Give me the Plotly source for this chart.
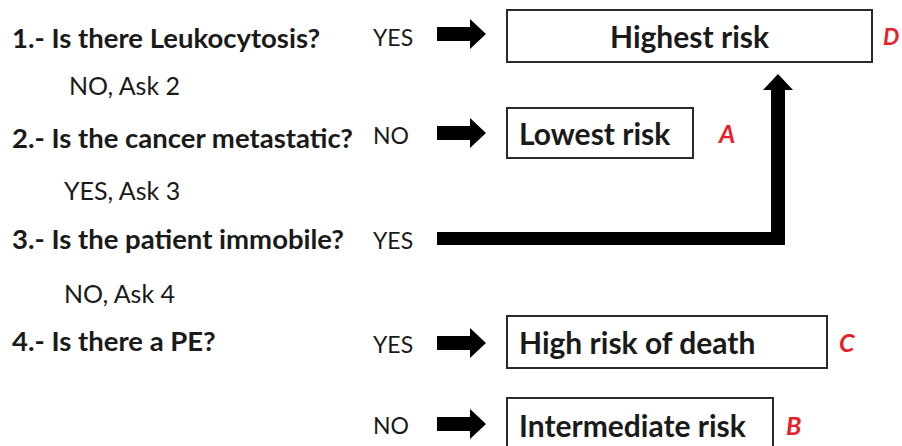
import plotly.graph_objects as go

# ---- content ----
questions = ["1.- Is there Leukocytosis?", "2.- Is the cancer metastatic?",
             "3.- Is the patient immobile?", "4.- Is there a PE?"]
followups = ["NO, Ask 2", "YES, Ask 3", "NO, Ask 4"]
answers = ["YES", "NO", "YES", "YES", "NO"]
outcomes = ["Highest risk", "Lowest risk", "High risk of death", "Intermediate risk"]
outcome_codes = ["D", "A", "C", "B"]

# ---- layout (pixel coordinates) ----
W, H = 902, 446
q_y = [37, 137, 238, 340]
f_x = [67, 62, 62]
f_y = [85, 190, 293]
ans_y = [37, 135, 240, 344, 425]
arrow_y = [34, 133, None, 343, 424]
box_x0 = 507
box_x1 = [872, 693, 827, 773]
box_y0 = [10, 108, 316, 398]
box_y1 = [62, 158, 368, 452]
box_center = [True, False, False, False]
code_x = [881, 716, 837, 784]
code_size = [23, 25, 25, 25]

FONT = "Lato"
fig = go.Figure()

shapes = []
annotations = []

for q, y in zip(questions, q_y):
    annotations.append(dict(x=10, y=y, text="<b>%s</b>" % q, xanchor="left", yanchor="middle",
                            font=dict(family=FONT, size=27.5, color="#1a1a1a")))
for t, x, y in zip(followups, f_x, f_y):
    annotations.append(dict(x=x, y=y, text=t, xanchor="left", yanchor="middle",
                            font=dict(family=FONT, size=25, color="#1a1a1a")))
for t, y in zip(answers, ans_y):
    annotations.append(dict(x=371, y=y, text=t, xanchor="left", yanchor="middle",
                            font=dict(family=FONT, size=23, color="#1a1a1a")))

# straight arrows
for c in arrow_y:
    if c is None:
        continue
    p = (f"M 437,{c-7} L 470,{c-7} L 470,{c-15} L 486,{c} L 470,{c+15} "
         f"L 470,{c+7} L 437,{c+7} Z")
    shapes.append(dict(type="path", path=p, fillcolor="black", line=dict(width=0),
                       xref="x", yref="y"))

# elbow arrow from question 3 up to highest risk box
elbow = ("M 437,245 L 785,245 L 785,90 L 793,90 L 778,74 L 763,90 "
         "L 771,90 L 771,232 L 437,232 Z")
shapes.append(dict(type="path", path=elbow, fillcolor="black", line=dict(width=0),
                   xref="x", yref="y"))

# outcome boxes
text_y = [36, 133, 342, 425]
for i, t in enumerate(outcomes):
    shapes.append(dict(type="rect", x0=box_x0, x1=box_x1[i], y0=box_y0[i], y1=box_y1[i],
                       line=dict(color="#2a2a2a", width=2), fillcolor="white",
                       xref="x", yref="y"))
    yc = text_y[i]
    if box_center[i]:
        annotations.append(dict(x=(box_x0 + box_x1[i]) / 2, y=yc, text="<b>%s</b>" % t,
                                xanchor="center", yanchor="middle",
                                font=dict(family=FONT, size=30, color="#1a1a1a")))
    else:
        annotations.append(dict(x=box_x0 + 10, y=yc, text="<b>%s</b>" % t,
                                xanchor="left", yanchor="middle",
                                font=dict(family=FONT, size=30, color="#1a1a1a")))
    annotations.append(dict(x=code_x[i], y=yc, text="<b><i>%s</i></b>" % outcome_codes[i],
                            xanchor="left", yanchor="middle",
                            font=dict(family=FONT, size=code_size[i], color="#e8202a")))

for a in annotations:
    a.update(xref="x", yref="y", showarrow=False)

fig.update_layout(
    width=W, height=H,
    margin=dict(l=0, r=0, t=0, b=0),
    paper_bgcolor="white", plot_bgcolor="white",
    xaxis=dict(range=[0, W], visible=False, fixedrange=True),
    yaxis=dict(range=[H, 0], visible=False, fixedrange=True),
    shapes=shapes, annotations=annotations,
    showlegend=False,
)

fig.write_html("out.html", config={"displayModeBar": False},
               post_script="document.body.style.margin='0';"
                           "document.body.style.overflow='hidden';")
